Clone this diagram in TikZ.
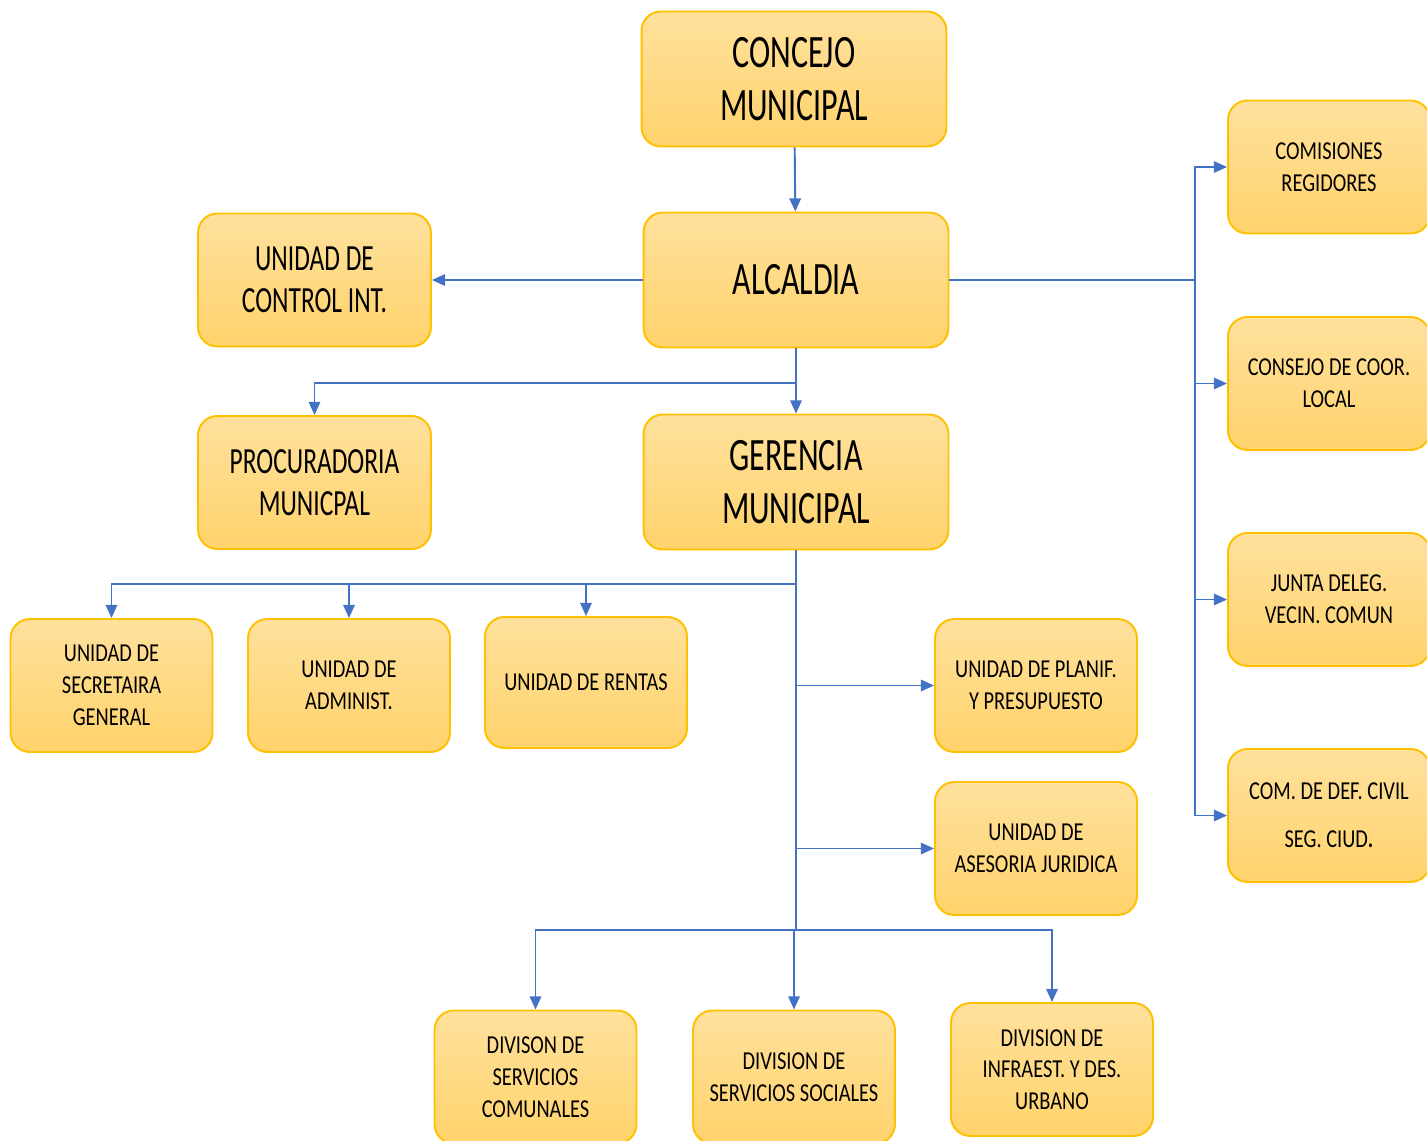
\documentclass[tikz,border=0pt]{standalone}
\usepackage{fontspec}
\setmainfont{Carlito}[FakeStretch=0.69]
\newfontfamily\chicafont{Carlito}[FakeStretch=0.79]
\usepackage{xcolor}
\usetikzlibrary{arrows.meta}
\definecolor{cajaborde}{HTML}{FFC000}
\definecolor{cajaarriba}{HTML}{FFE19D}
\definecolor{cajaabajo}{HTML}{FFD36C}
\definecolor{flechaazul}{HTML}{4472C4}

\begin{document}
\begin{tikzpicture}[x=0.02cm, y=-0.02cm,
		caja/.style={rectangle, rounded corners=11pt, draw=cajaborde, line width=1.1pt, top color=cajaarriba, bottom color=cajaabajo, align=center, inner sep=0pt},
		grande/.style={caja, minimum width=6.1cm, minimum height=2.7cm, font=\fontsize{26.4}{30.6}\selectfont},
		mediana/.style={caja, minimum width=4.66cm, minimum height=2.66cm, font=\fontsize{21}{23.8}\selectfont},
		chica/.style={caja, minimum width=4.04cm, minimum height=2.66cm, font=\chicafont\fontsize{14.7}{18.1}\selectfont},
		flecha/.style={draw=flechaazul, line width=1.1pt, -{Triangle[length=7.5pt, width=6.5pt]}},
		linea/.style={draw=flechaazul, line width=1.1pt}]
	\useasboundingbox (0,0) rectangle (1427,1140);

	\node [grande] (concejo) at (794,79) {CONCEJO\\MUNICIPAL};
	\node [grande] (alcaldia) at (796,280) {ALCALDIA};
	\node [grande] (gerencia) at (796,482) {GERENCIA\\MUNICIPAL};
	\node [mediana] (control) at (314.5,280) {UNIDAD DE\\CONTROL INT.};
	\node [mediana] (procuradoria) at (314.5,482.5) {PROCURADORIA\\MUNICPAL};

	\node [chica] (secretaria) at (111.5,685.5) {UNIDAD DE\\SECRETAIRA\\GENERAL};
	\node [chica] (administ) at (349,685.5) {UNIDAD DE\\ADMINIST.};
	\node [chica, minimum height=2.62cm] (rentas) at (586,682.5) {UNIDAD DE RENTAS};
	\node [chica] (planif) at (1036,685.5) {UNIDAD DE PLANIF.\\Y PRESUPUESTO};
	\node [chica] (asesoria) at (1036,848.5) {UNIDAD DE\\ASESORIA JURIDICA};

	\node [chica] (comunales) at (535.5,1077) {DIVISON DE\\SERVICIOS\\COMUNALES};
	\node [chica] (sociales) at (794,1077) {DIVISION DE\\SERVICIOS SOCIALES};
	\node [chica] (infraest) at (1052,1069.5) {DIVISION DE\\INFRAEST. Y DES.\\URBANO};

	\node [chica] (comisiones) at (1329,167) {COMISIONES\\REGIDORES};
	\node [chica] (consejo) at (1329,383.5) {CONSEJO DE COOR.\\LOCAL};
	\node [chica] (junta) at (1329,599.5) {JUNTA DELEG.\\VECIN. COMUN};
	\node [chica, font=\chicafont\fontsize{14.7}{27.2}\selectfont] (civil) at (1329,815.5) {COM. DE DEF. CIVIL\\SEG. CIUD\textbf{.}};

	\coordinate (busder) at (1195,280);
	\coordinate (r1) at (796,383);
	\coordinate (r2) at (796,584);
	\coordinate (r3) at (796,930);

	\draw [flecha] (concejo) -- (alcaldia);
	\draw [flecha] (alcaldia) -- (control);
	\draw [flecha] (alcaldia) -- (gerencia);
	\draw [flecha] (r1) -| (procuradoria);
	\draw [linea] (alcaldia.east) -- (busder);
	\foreach \n in {comisiones, consejo, junta, civil}
		\draw [flecha] (busder) |- (\n);
	\draw [linea] (gerencia.south) -- (r3);
	\foreach \n in {secretaria, administ, rentas}
		\draw [flecha] (r2) -| (\n);
	\draw [flecha] (gerencia.south) |- (planif);
	\draw [flecha] (gerencia.south) |- (asesoria);
	\foreach \n in {comunales, sociales, infraest}
		\draw [flecha] (r3) -| (\n);
\end{tikzpicture}
\end{document}
